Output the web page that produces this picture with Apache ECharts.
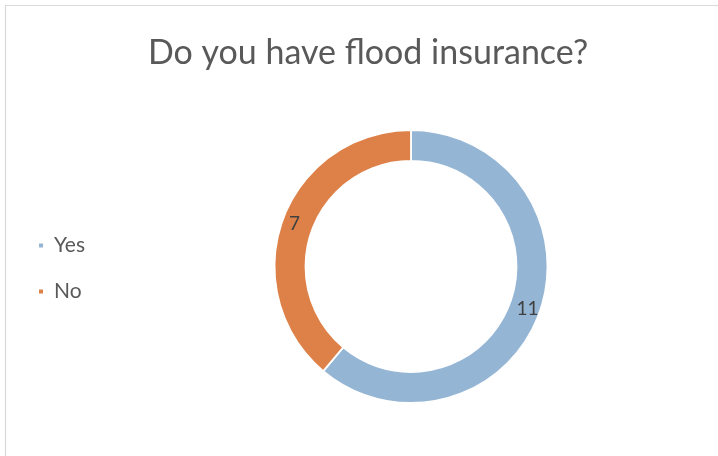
<!DOCTYPE html>
<html>
<head>
<meta charset="utf-8">
<script src="https://cdn.jsdelivr.net/npm/echarts@6/dist/echarts.min.js"></script>
<style>html,body{margin:0;padding:0;background:#fff}#c{width:718px;height:456px}</style>
</head>
<body>
<div id="c"></div>
<script>
const titleText = 'Do you have flood insurance?';
const categories = ['Yes', 'No'];
const values = [11, 7];
const colors = ['#95B5D5', '#DE8148'];
const FONT = 'Lato, sans-serif';

const chart = echarts.init(document.getElementById('c'), null, {renderer: 'canvas'});
chart.setOption({
  animation: false,
  backgroundColor: '#fff',
  color: colors,
  graphic: [{
    type: 'rect',
    shape: {x: 5.5, y: 5.5, width: 760, height: 500},
    style: {fill: 'none', stroke: '#D9D9D9', lineWidth: 1.2},
    silent: true, z: -1
  }],
  title: {
    text: titleText,
    left: 363, top: 31, textAlign: 'center',
    textStyle: {fontFamily: FONT, fontWeight: 'normal', fontSize: 34, color: '#595959'}
  },
  legend: {
    orient: 'vertical',
    left: 32, top: 230,
    itemWidth: 6, itemHeight: 6, itemGap: 25,
    icon: 'rect',
    textStyle: {fontFamily: FONT, fontSize: 21, color: '#595959', padding: [0,0,0,5]},
    data: categories
  },
  series: [{
    type: 'pie',
    center: [411, 266.5],
    radius: [105.5, 136.5],
    startAngle: 90,
    clockwise: true,
    avoidLabelOverlap: false,
    itemStyle: {borderColor: '#fff', borderWidth: 1.8},
    label: {show: true, position: 'inside', formatter: '{c}', fontFamily: FONT, fontSize: 19, color: '#404040'},
    labelLine: {show: false},
    emphasis: {disabled: true},
    data: categories.map((n, i) => ({name: n, value: values[i]}))
  }]
});
</script>
</body>
</html>
